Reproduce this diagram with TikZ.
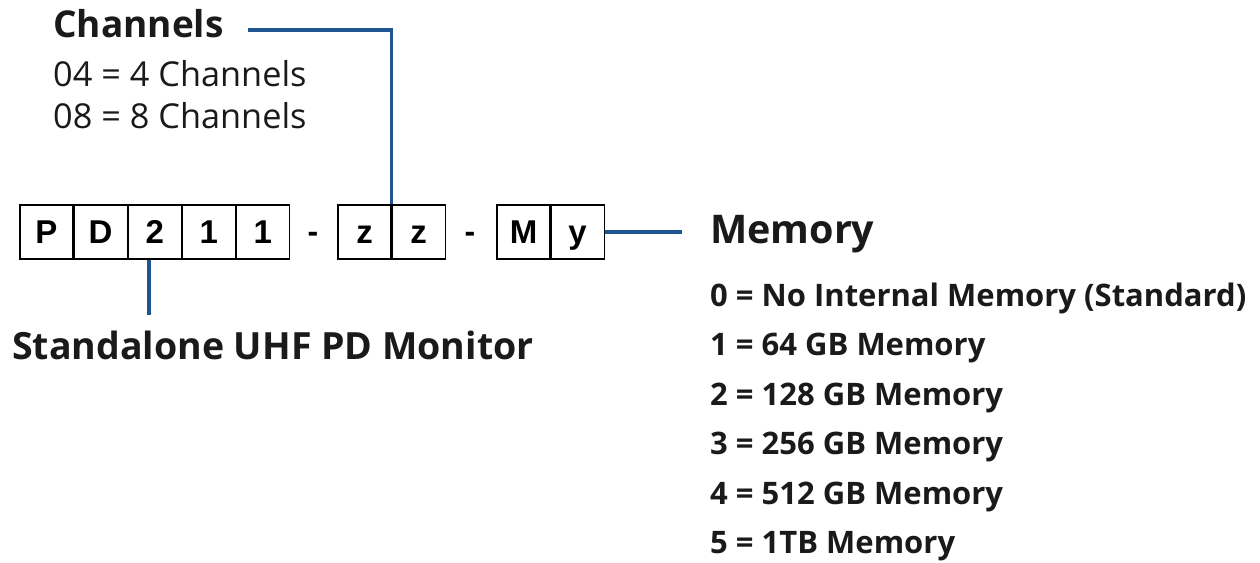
\documentclass[tikz,border=0pt]{standalone}
\usepackage{fontspec}
\setmainfont{Open Sans}
\newfontfamily\cellfont{Liberation Sans}
\usetikzlibrary{positioning}

\definecolor{linkblue}{RGB}{31,84,145}
\definecolor{inkblack}{RGB}{26,26,26}

\begin{document}
\begin{tikzpicture}[x=1pt, y=-1pt]
    % Styles
    \tikzset{
        cell/.style={rectangle, draw, line width=1.1pt, minimum width=53pt, minimum height=54pt, inner sep=0pt, text height=23.5pt, text depth=0pt, text centered, font=\cellfont\bfseries\fontsize{33}{33}\selectfont},
        sep_dash/.style={inner sep=0pt, font=\cellfont\bfseries\fontsize{32}{32}\selectfont},
        link/.style={draw=linkblue, line width=3.6pt},
        heading/.style={anchor=base west, inner sep=0pt, text=inkblack, font=\bfseries\fontsize{37}{40}\selectfont},
        big_heading/.style={anchor=base west, inner sep=0pt, text=inkblack, font=\bfseries\fontsize{37.5}{44}\selectfont},
        option/.style={anchor=base west, inner sep=0pt, text=inkblack, font=\fontsize{34.3}{38}\selectfont},
        mem_option/.style={anchor=base west, inner sep=0pt, text=inkblack, font=\bfseries\fontsize{31}{36}\selectfont}
    }

    \useasboundingbox (0,0) rectangle (1260,562);

    % --- Part number cells ---

    % PD211
    \node[cell] (p) at (46.5,232) {P};
    \node[cell, right=0pt of p] (d) {D};
    \node[cell, right=0pt of d] (two) {2};
    \node[cell, right=0pt of two] (one_a) {1};
    \node[cell, right=0pt of one_a] (one_b) {1};

    \node[sep_dash] (dash_a) at (313,237) {-};

    % zz
    \node[cell] (z_a) at (364.5,232) {z};
    \node[cell, right=0pt of z_a] (z_b) {z};

    \node[sep_dash] (dash_b) at (470,237) {-};

    % My
    \node[cell] (m) at (523.5,232) {M};
    \node[cell, right=0pt of m] (y) {y};

    % --- Labels ---

    % Channels
    \node[heading] (chan_head) at (53,37) {Channels};
    \node[option] (chan_four) at (53,86) {04 = 4 Channels};
    \node[option] (chan_eight) at (53,128) {08 = 8 Channels};

    % Model
    \node[big_heading] (model) at (12,359) {Standalone UHF PD Monitor};

    % Memory
    \node[big_heading, font=\bfseries\fontsize{39.5}{44}\selectfont] (mem_head) at (710,243) {Memory};
    \node[mem_option] (mem_zero) at (710,306) {0 = No Internal Memory (Standard)};
    \node[mem_option] (mem_one) at (710,355.5) {1 = 64 GB Memory};
    \node[mem_option] (mem_two) at (710,405) {2 = 128 GB Memory};
    \node[mem_option] (mem_three) at (710,454.5) {3 = 256 GB Memory};
    \node[mem_option] (mem_four) at (710,504) {4 = 512 GB Memory};
    \node[mem_option] (mem_five) at (710,553.5) {5 = 1TB Memory};

    % --- Connections ---

    % Channels to zz
    \draw[link] ([xshift=24pt, yshift=-7pt]chan_head.east) -| (z_a.north east);

    % 2 to model name
    \draw[link, shorten >=15pt] ([xshift=-6pt]two.south) -- ([xshift=-6pt]two.south |- model.north);

    % y to memory
    \draw[link, shorten >=28pt] (y.east) -- (y.east -| mem_head.west);

\end{tikzpicture}
\end{document}
